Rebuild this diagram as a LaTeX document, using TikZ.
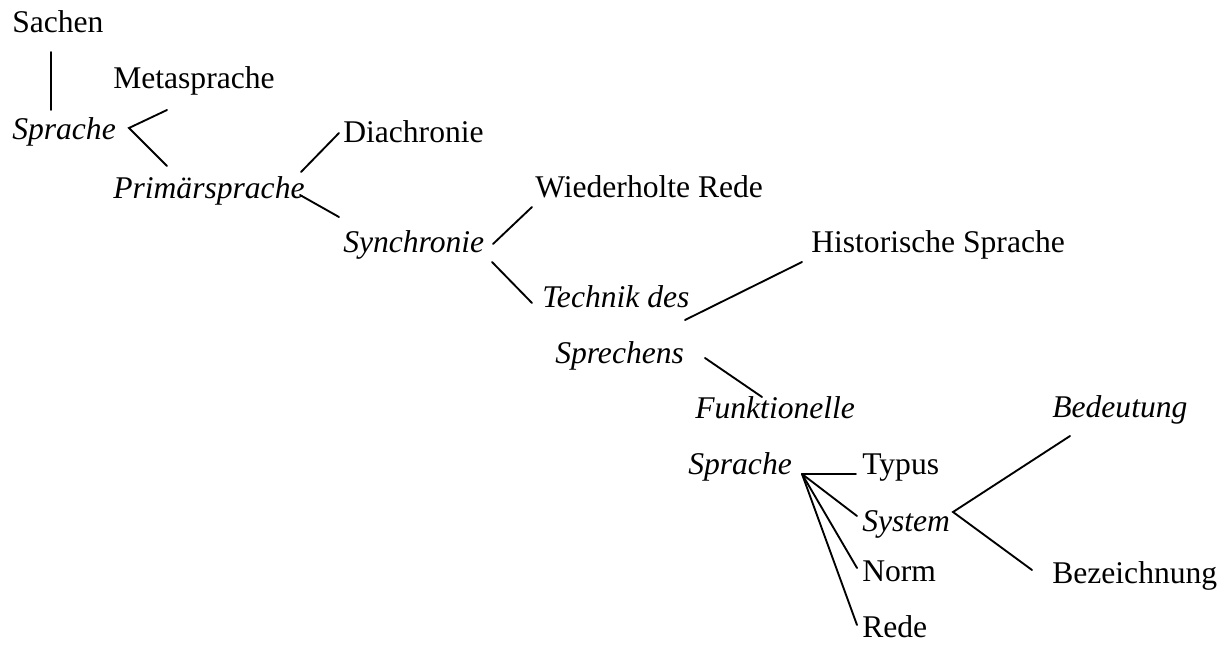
\documentclass[tikz,border=0pt]{standalone}
\usepackage{fontspec}
\setmainfont{Liberation Serif}
\tikzset{
    lbl/.style={anchor=base west, inner sep=0pt, font=\fontsize{23.7}{28}\selectfont},
    lblit/.style={lbl, font=\fontsize{23.7}{28}\selectfont\itshape},
    branch/.style={line width=1.4pt, line cap=round}
}
\begin{document}
\begin{tikzpicture}[x=0.75pt, y=-0.75pt]

  \useasboundingbox (0,0) rectangle (1230,646);

  % Terms (base line positions)
  \node[lbl]   (sachen) at (12,32)   {Sachen};
  \node[lbl]   (meta)   at (113,88)  {Metasprache};
  \node[lblit] (spr1)   at (12,139)  {Sprache};
  \node[lblit] (prim)   at (113,198) {Primärsprache};
  \node[lbl]   (dia)    at (343,142) {Diachronie};
  \node[lblit] (syn)    at (343,252) {Synchronie};
  \node[lbl]   (wied)   at (535,197) {Wiederholte Rede};
  \node[lblit] (tech)   at (542,307) {Technik des};
  \node[lblit] (sprech) at (555,363) {Sprechens};
  \node[lbl]   (hist)   at (811,252) {Historische Sprache};
  \node[lblit] (funk)   at (695,418) {Funktionelle};
  \node[lblit] (spr2)   at (688,474) {Sprache};
  \node[lbl]   (typ)    at (862,474) {Typus};
  \node[lblit] (sys)    at (862,531) {System};
  \node[lbl]   (norm)   at (862,581) {Norm};
  \node[lbl]   (rede)   at (862,637) {Rede};
  \node[lblit] (bed)    at (1052,417) {Bedeutung};
  \node[lbl]   (bez)    at (1052,583) {Bezeichnung};

  % Branch points
  \coordinate (sprfork) at ([shift={(117,-11)}]spr1.base west);
  \coordinate (fan)     at ([shift={(114,0)}]spr2.base west);
  \coordinate (sysfork) at ([shift={(91,-19)}]sys.base west);

  % Sachen -- Sprache
  \draw[branch] ([shift={(39,20)}]sachen.base west) -- ([shift={(39,-29)}]spr1.base west);

  % Sprache: Metasprache / Primaersprache
  \draw[branch] ([shift={(54,22)}]meta.base west) -- (sprfork)
                -- ([shift={(54,-32)}]prim.base west);

  % Primaersprache: Diachronie / Synchronie
  \draw[branch] ([shift={(188,-26)}]prim.base west) -- ([shift={(-4,-9)}]dia.base west);
  \draw[branch] ([shift={(187,-3)}]prim.base west) -- ([shift={(-4,-35)}]syn.base west);

  % Synchronie: Wiederholte Rede / Technik des Sprechens
  \draw[branch] ([shift={(150,-8)}]syn.base west) -- ([shift={(-3,10)}]wied.base west);
  \draw[branch] ([shift={(149,10)}]syn.base west) -- ([shift={(-10,-4)}]tech.base west);

  % Technik des Sprechens: Historische / Funktionelle Sprache
  \draw[branch] ([shift={(143,13)}]tech.base west) -- ([shift={(-9,10)}]hist.base west);
  \draw[branch] ([shift={(150,-5)}]sprech.base west) -- ([shift={(67,-21)}]funk.base west);

  % Funktionelle Sprache: Typus, System, Norm, Rede
  \draw[branch] (fan) -- ([shift={(-6,0)}]typ.base west);
  \draw[branch] (fan) -- ([shift={(-5,-15)}]sys.base west);
  \draw[branch] (fan) -- ([shift={(-5,-13)}]norm.base west);
  \draw[branch] (fan) -- ([shift={(-5,-12)}]rede.base west);

  % System: Bedeutung / Bezeichnung
  \draw[branch] ([shift={(18,19)}]bed.base west) -- (sysfork)
                -- ([shift={(-20,-13)}]bez.base west);

\end{tikzpicture}
\end{document}
